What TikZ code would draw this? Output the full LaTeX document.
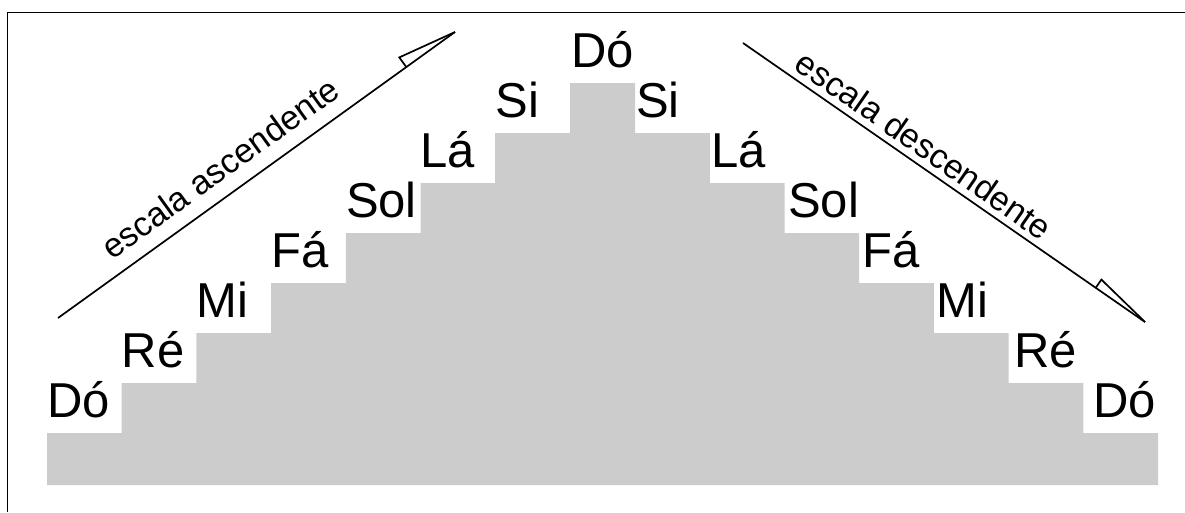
\documentclass[tikz,border=0pt]{standalone}
\usepackage{fontspec}
\setmainfont{Liberation Sans}
\begin{document}
\begin{tikzpicture}[x=1pt,y=-1pt,
  note/.style={inner sep=0pt,font=\fontsize{49}{49}\selectfont},
  lbl/.style={inner sep=0pt,font=\fontsize{34}{34}\selectfont},
  arr/.style={line width=1.7pt,line join=miter},
  frame/.style={line width=1.6pt}]
\definecolor{stair}{RGB}{204,204,204}
\useasboundingbox (0,0) rectangle (1185,512);
% frame (only top and left edges visible)
\draw[frame] (7.5,512) -- (7.5,12.5) -- (1185,12.5);
% staircase
\fill[stair] (47,485) -- (47,433) -- (121.7,433) -- (121.7,383) -- (196.4,383) -- (196.4,333)
  -- (271.1,333) -- (271.1,283) -- (345.8,283) -- (345.8,233) -- (420.5,233) -- (420.5,183)
  -- (495.2,183) -- (495.2,133) -- (570,133) -- (570,83) -- (635,83) -- (635,133)
  -- (709.8,133) -- (709.8,183) -- (784.5,183) -- (784.5,233) -- (859.2,233) -- (859.2,283)
  -- (933.9,283) -- (933.9,333) -- (1008.6,333) -- (1008.6,383) -- (1083.3,383) -- (1083.3,433)
  -- (1158,433) -- (1158,485) -- cycle;
% left labels
\node[note,anchor=base west] (l1) at (47,417) {Dó};
\node[note,anchor=base west] (l2) at (121.7,367) {Ré};
\node[note,anchor=base west] (l3) at (196.4,317) {Mi};
\node[note,anchor=base west] (l4) at (271.1,267) {Fá};
\node[note,anchor=base west] (l5) at (345.8,217) {Sol};
\node[note,anchor=base west] (l6) at (420.5,167) {Lá};
\node[note,anchor=base west] (l7) at (495.2,117) {Si};
% top
\node[note,anchor=base] (top) at (602.5,67) {Dó};
% right labels
\node[note,anchor=base west] (r7) at (636,117) {Si};
\node[note,anchor=base west] (r6) at (711,167) {Lá};
\node[note,anchor=base west] (r5) at (788,217) {Sol};
\node[note,anchor=base west] (r4) at (862,267) {Fá};
\node[note,anchor=base west] (r3) at (936,317) {Mi};
\node[note,anchor=base west] (r2) at (1014,367) {Ré};
\node[note,anchor=base west] (r1) at (1093,417) {Dó};
% ascending arrow
\coordinate (aS) at (58,318);
\coordinate (aT) at (455,32);
\coordinate (aB) at (406.3,67.1);
\coordinate (aW) at (399.3,57.4);
\draw[arr] (aS) -- (aT);
\draw[arr] (aB) -- (aW) -- (aT);
\node[lbl,rotate=35.8] (asc) at (220,168) {escala ascendente};
% descending arrow
\coordinate (dS) at (743,43);
\coordinate (dT) at (1145,322);
\coordinate (dB) at (1095.7,287.8);
\coordinate (dW) at (1101.4,279.6);
\draw[arr] (dS) -- (dT);
\draw[arr] (dB) -- (dW) -- (dT);
\node[lbl,rotate=-34.8] (desc) at (924,145) {escala descendente};
\end{tikzpicture}
\end{document}
